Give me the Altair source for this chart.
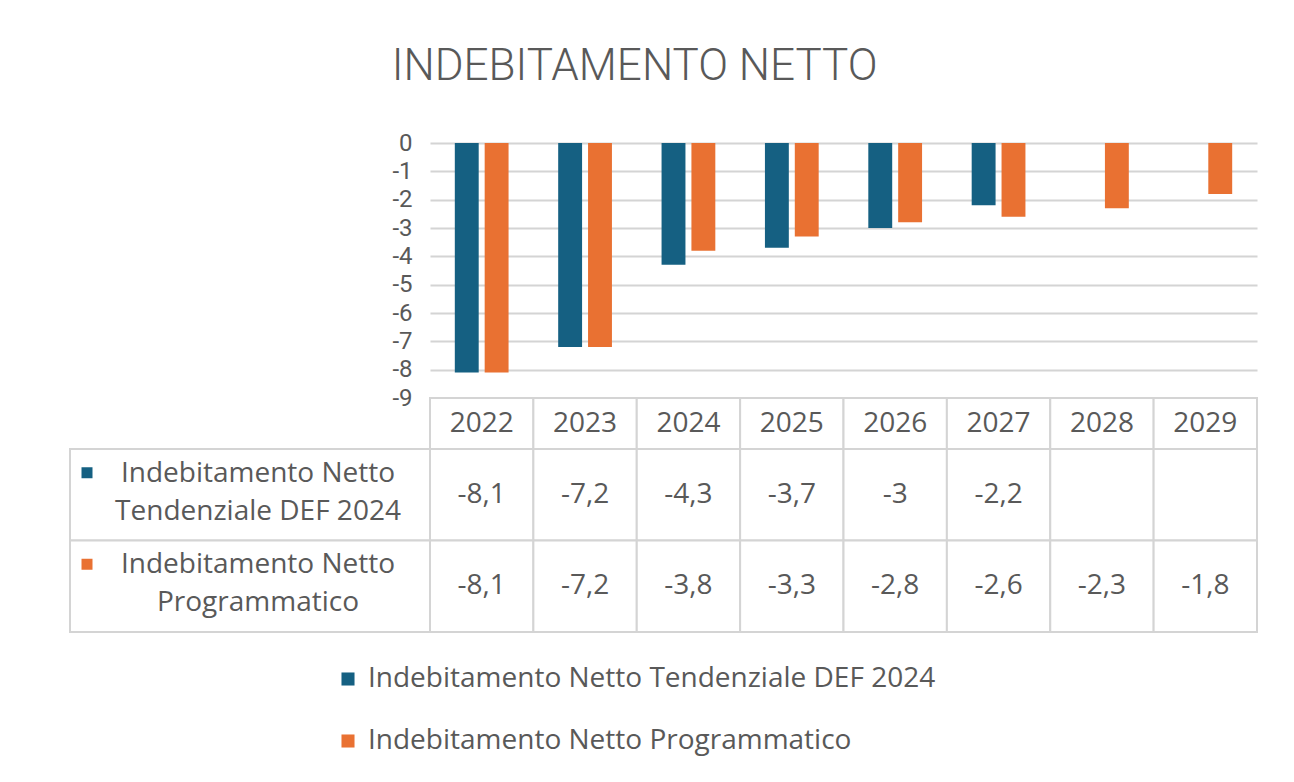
import altair as alt
import pandas as pd

# ---------------- data ----------------
years = ["2022", "2023", "2024", "2025", "2026", "2027", "2028", "2029"]
series = ["Indebitamento Netto  Tendenziale DEF  2024", "Indebitamento Netto Programmatico"]
row_labels = ["Indebitamento Netto\nTendenziale DEF  2024", "Indebitamento Netto\nProgrammatico"]
tendenziale = [-8.1, -7.2, -4.3, -3.7, -3.0, -2.2, None, None]
programmatico = [-8.1, -7.2, -3.8, -3.3, -2.8, -2.6, -2.3, -1.8]
y_ticks = [0, -1, -2, -3, -4, -5, -6, -7, -8, -9]
colors = ["#156082", "#E97132"]
title_text = "INDEBITAMENTO NETTO"

# ---------------- style ----------------
FONT = "Open Sans"
TXT = "#595959"
LINE = "#d4d4d4"
FS = 28
AXFS = 24


def fmt(v):
    if v is None:
        return ""
    s = ("%g" % v)
    return s.replace(".", ",")


rows = []
for s, vals in zip(series, [tendenziale, programmatico]):
    for y, v in zip(years, vals):
        rows.append({"year": y, "series": s, "value": v, "label": fmt(v)})
df_all = pd.DataFrame(rows)
df_bars = df_all.dropna(subset=["value"])
df_years = pd.DataFrame({"year": years})
df_rows = pd.DataFrame({"series": series, "label": row_labels, "col": ["c", "c"]})

color_scale = alt.Scale(domain=series, range=colors)

# ---------------- bars ----------------
bars = alt.Chart(df_bars).mark_bar().encode(
    x=alt.X("year:N", sort=years,
            scale=alt.Scale(paddingInner=0.48, paddingOuter=0.24), axis=None),
    xOffset=alt.XOffset("series:N", sort=series,
                        scale=alt.Scale(paddingInner=0.2, paddingOuter=0)),
    y=alt.Y("value:Q", scale=alt.Scale(domain=[-9, 0], nice=False),
            axis=alt.Axis(values=y_ticks, title=None, grid=True, gridColor=LINE,
                          gridWidth=2, ticks=False, tickSize=0, domain=False,
                          labelFont="Roboto", labelFontSize=AXFS, labelColor=TXT,
                          labelPadding=18, labelExpr="toString(datum.value)")),
    color=alt.Color("series:N", sort=series, scale=color_scale,
                    legend=alt.Legend(title=None, orient="none", legendX=-96, legendY=522,
                                      direction="vertical", symbolType="square",
                                      symbolSize=170, symbolStrokeWidth=0,
                                      labelFont=FONT, labelFontSize=FS, labelColor=TXT,
                                      labelLimit=0, rowPadding=34, labelOffset=6)),
).properties(width=827, height=255)

# ---------------- header row ----------------
hx = alt.X("year:N", sort=years, scale=alt.Scale(paddingInner=0, paddingOuter=0), axis=None)
header = alt.layer(
    alt.Chart(df_years).mark_rect(fill="white", stroke=LINE, strokeWidth=2).encode(x=hx),
    alt.Chart(df_years).mark_text(font=FONT, fontSize=FS, color=TXT).encode(x=hx, text="year:N"),
).properties(width=827, height=51)

# ---------------- body (values) ----------------
by = alt.Y("series:N", sort=series, scale=alt.Scale(paddingInner=0, paddingOuter=0), axis=None)
body = alt.layer(
    alt.Chart(df_all).mark_rect(fill="white", stroke=LINE, strokeWidth=2).encode(x=hx, y=by),
    alt.Chart(df_all).mark_text(font=FONT, fontSize=FS, color=TXT).encode(x=hx, y=by, text="label:N"),
).properties(width=827, height=183)

# ---------------- row labels ----------------
lx = alt.X("col:N", scale=alt.Scale(paddingInner=0, paddingOuter=0), axis=None)
labels = alt.layer(
    alt.Chart(df_rows).mark_rect(fill="white", stroke=LINE, strokeWidth=2).encode(x=lx, y=by),
    alt.Chart(df_rows).transform_calculate(lines="split(datum.label, '\\n')").mark_text(
        font=FONT, fontSize=FS, color=TXT, lineHeight=38, dx=8, dy=-21
    ).encode(x=lx, y=by, text="lines:N"),
    alt.Chart(df_rows).mark_square(size=121, opacity=1, yOffset=-22).encode(
        x=alt.value(17), y=by,
        color=alt.Color("series:N", sort=series, scale=color_scale, legend=None)),
).properties(width=360, height=183)

# ---------------- spacers ----------------
def spacer(h):
    return alt.Chart(pd.DataFrame({"a": [0]})).mark_point(opacity=0).encode(
        x=alt.value(0), y=alt.value(0)).properties(width=360, height=h)

chart = alt.concat(
    spacer(255), bars,
    spacer(51), header,
    labels, body,
    columns=2, spacing=0, bounds="flush", align="each",
).resolve_scale(color="independent").properties(
    title=alt.TitleParams(title_text, font="Roboto", fontSize=44, fontWeight=300,
                          color=TXT, anchor="middle", dx=-28, offset=42),
    padding={"left": 59, "top": 37, "right": 20, "bottom": 10},
    background="white",
).configure_view(stroke=None)

chart.save("out.html", embed_options={"renderer": "svg", "actions": False})
